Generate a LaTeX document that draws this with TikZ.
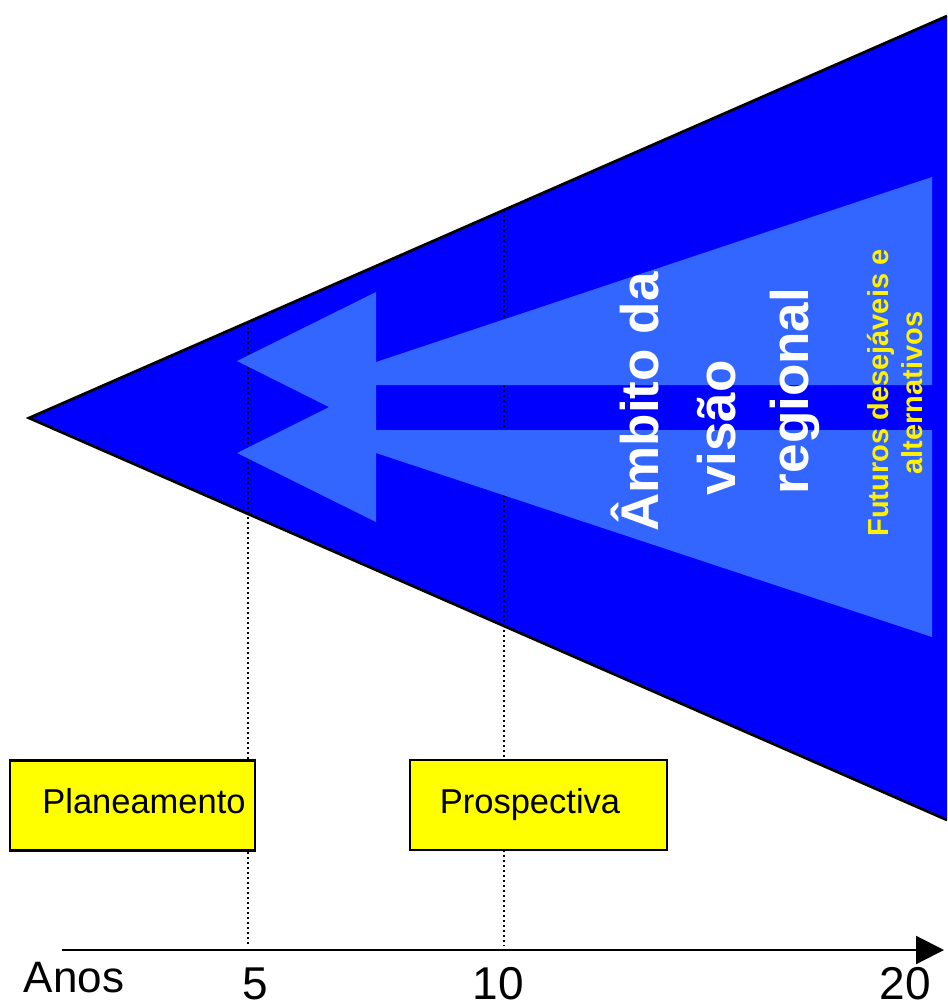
\documentclass[tikz,border=0pt]{standalone}
\usepackage{fontspec}
\setmainfont{Liberation Sans}
\usetikzlibrary{arrows.meta}
\definecolor{deepblue}{RGB}{0,0,255}
\definecolor{lightblue}{RGB}{51,102,255}
\definecolor{boxyellow}{RGB}{255,255,0}
\tikzset{
  edgeline/.style={black, line width=2.7pt, line join=miter},
  yearline/.style={black, line width=2.2pt, dash pattern=on 2pt off 3pt},
  yearbox/.style={draw=black, fill=boxyellow, line width=2.8pt, inner sep=0pt},
  boxtext/.style={font=\fontsize{34.5pt}{38pt}\selectfont, inner sep=0pt, anchor=base},
  axisline/.style={black, line width=2.2pt, -{Triangle[length=28pt,width=28pt]}},
  axistext/.style={font=\fontsize{44pt}{48pt}\selectfont, inner sep=0pt, anchor=base},
  numtext/.style={font=\fontsize{46pt}{50pt}\selectfont, inner sep=0pt, anchor=base},
  bigtitle/.style={font=\bfseries\fontsize{53pt}{58pt}\selectfont, text=white, rotate=90, inner sep=0pt, anchor=base},
  subtitle/.style={font=\bfseries\fontsize{29pt}{32pt}\selectfont, text=yellow, rotate=90, inner sep=0pt, anchor=base}
}
\begin{document}
\begin{tikzpicture}[x=1pt,y=-1pt]
\useasboundingbox (0,0) rectangle (947,1003);
\clip (0,0) rectangle (947,1003);

% the widening cone
\coordinate (apex) at (29,418);
\coordinate (topend) at (947,16);
\coordinate (botend) at (947,820);
\fill[deepblue] (topend) -- (apex) -- (botend) -- cycle;

% year markers
\coordinate (top5) at (248,322);
\coordinate (foot5) at (248,946);
\coordinate (top10) at (504,210);
\coordinate (foot10) at (504,946);
\draw[yearline] (top5) -- (foot5);
\draw[yearline] (top10) -- (foot10);

% split arrow pointing back to the present
\fill[lightblue] (376,292) -- (237,361) -- (329,407) -- (237,453) -- (376,522)
  -- (376,453) -- (932,637) -- (932,430) -- (376,430) -- (376,385)
  -- (932,385) -- (932,177) -- (376,362) -- cycle;

% cone outline
\draw[edgeline] (topend) -- (apex) -- (botend);

% horizon boxes
\node[yearbox, minimum width=245pt, minimum height=90pt] (plan) at (132.5,805.5) {};
\node[boxtext] (plantext) at (144,813) {Planeamento};
\node[yearbox, minimum width=257pt, minimum height=90pt] (prosp) at (538.5,805) {};
\node[boxtext] (prosptext) at (530,813) {Prospectiva};

% time axis
\coordinate (axstart) at (62,950);
\coordinate (axend) at (944,950);
\node[axistext] (anos) at (74,992) {Anos};
\node[numtext] (y5) at (255.5,999) {5};
\node[numtext] (y10) at (498,999) {10};
\node[numtext] (y20) at (905,999) {20};
\draw[axisline] (axstart) -- (axend);

% vertical titles
\node[bigtitle] (line1) at (658,402) {Âmbito da};
\node[bigtitle] (line2) at (735,428) {visão};
\node[bigtitle] (line3) at (808,391) {regional};
\node[subtitle] (sub1) at (888,393) {Futuros desejáveis e};
\node[subtitle] (sub2) at (922,393) {alternativos};
\end{tikzpicture}
\end{document}
